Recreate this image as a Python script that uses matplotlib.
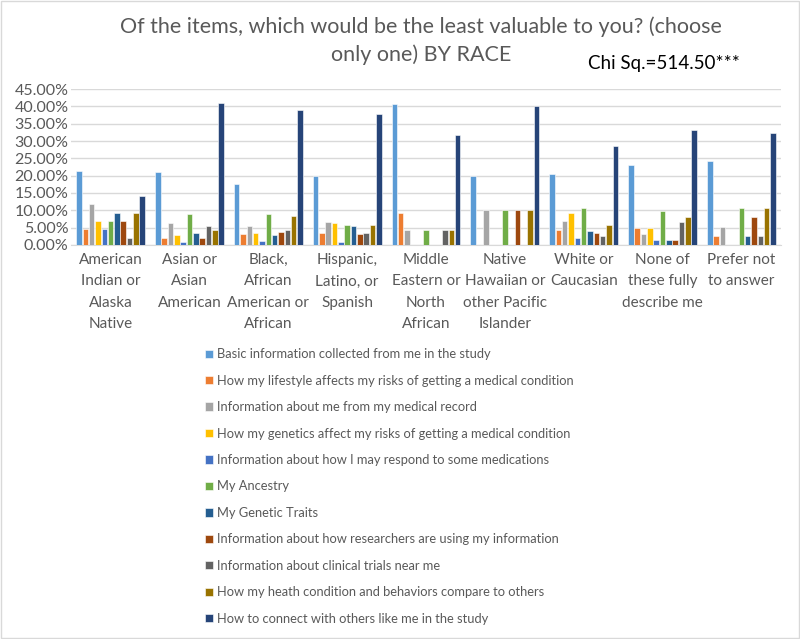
import matplotlib
matplotlib.use('Agg')
import matplotlib.pyplot as plt
import numpy as np
from matplotlib.ticker import PercentFormatter
from matplotlib.patches import Rectangle

plt.rcParams['font.family'] = ['Lato', 'DejaVu Sans']

# Race groups along the x axis
races = ['American\nIndian or\nAlaska\nNative', 'Asian or\nAsian\nAmerican',
         'Black,\nAfrican\nAmerican or\nAfrican', 'Hispanic,\nLatino, or\nSpanish',
         'Middle\nEastern or\nNorth\nAfrican', 'Native\nHawaiian or\nother Pacific\nIslander',
         'White or\nCaucasian', 'None of\nthese fully\ndescribe me', 'Prefer not\nto answer']

items = ['Basic information collected from me in the study',
         'How my lifestyle affects my risks of getting a medical condition',
         'Information about me from my medical record',
         'How my genetics affect my risks of getting a medical condition',
         'Information about how I may respond to some medications',
         'My Ancestry',
         'My Genetic Traits',
         'Information about how researchers are using my information',
         'Information about clinical trials near me',
         'How my heath condition and behaviors compare to others',
         'How to connect with others like me in the study']

colors = ['#5B9BD5', '#ED7D31', '#A5A5A5', '#FFC000', '#4472C4', '#70AD47',
          '#255E91', '#9E480E', '#636363', '#997300', '#264478']

# percent values, one list per item, in race order
basic_info   = [21.4, 21.1, 17.7, 19.9, 40.8, 20.0, 20.4, 23.2, 24.3]
lifestyle    = [4.7, 2.1, 3.1, 3.5, 9.1, 0.0, 4.2, 4.9, 2.6]
med_record   = [11.8, 6.4, 5.6, 6.6, 4.3, 10.0, 6.8, 3.1, 5.3]
genetics     = [7.0, 2.8, 3.6, 6.3, 0.0, 0.0, 9.3, 4.9, 0.0]
medications  = [4.7, 0.8, 1.1, 1.0, 0.0, 0.0, 2.0, 1.5, 0.0]
ancestry     = [7.0, 9.0, 9.0, 5.8, 4.3, 10.0, 10.8, 9.8, 10.7]
traits       = [9.3, 3.5, 2.9, 5.4, 0.0, 0.0, 4.1, 1.5, 2.6]
researchers  = [7.0, 2.1, 3.8, 3.1, 0.0, 10.0, 3.6, 1.5, 8.0]
trials       = [2.1, 5.4, 4.3, 3.5, 4.3, 0.0, 2.6, 6.6, 2.6]
compare      = [9.3, 4.4, 8.5, 5.9, 4.3, 10.0, 5.8, 8.2, 10.7]
connect      = [14.2, 40.9, 38.9, 37.8, 31.7, 40.0, 28.6, 33.2, 32.3]

series = [basic_info, lifestyle, med_record, genetics, medications, ancestry,
          traits, researchers, trials, compare, connect]

fig = plt.figure(figsize=(8, 6.39), dpi=100)
ax = fig.add_axes([0.089, 0.6166, 0.887, 0.2441])

x = np.arange(len(races))
n = len(series)
slot = 0.883 / n
for i, vals in enumerate(series):
    offs = (i - (n - 1) / 2) * slot
    ax.bar(x + offs, np.array(vals) / 100, width=slot * 0.88, color=colors[i],
           edgecolor='white', linewidth=0.4, label=items[i], zorder=3)

ax.set_xlim(-0.5, len(races) - 0.5)
ax.set_ylim(0, 0.45)
ax.set_yticks(np.arange(0, 0.451, 0.05))
ax.yaxis.set_major_formatter(PercentFormatter(1.0, decimals=2))
ax.set_xticks(x)
ax.set_xticklabels(races, linespacing=1.65, fontsize=11)
ax.tick_params(axis='both', length=0, colors='#595959')
ax.tick_params(axis='y', labelsize=11.5, pad=2)
ax.tick_params(axis='x', pad=6)
ax.grid(axis='y', color='#D9D9D9', linewidth=1, zorder=0)
for s in ['top', 'right', 'left']:
    ax.spines[s].set_visible(False)
ax.spines['bottom'].set_color('#D9D9D9')

fig.text(0.526, 1 - 27 / 639, 'Of the items, which would be the least valuable to you? (choose',
         ha='center', va='center', fontsize=15.5, color='#595959')
fig.text(0.526, 1 - 55 / 639, 'only one) BY RACE',
         ha='center', va='center', fontsize=15.5, color='#595959')
fig.text(0.735, 1 - 64 / 639, 'Chi Sq.=514.50***', ha='left', va='center', fontsize=13.5, color='black')

fig.legend(loc='upper left', bbox_to_anchor=(0.25, 1 - 343 / 639), frameon=False,
           fontsize=9.3, labelspacing=1.12, handlelength=0.6, handleheight=0.6,
           handletextpad=0.35, labelcolor='#595959', borderaxespad=0)

fig.patches.append(Rectangle((0.001, 0.001), 0.998, 0.998, transform=fig.transFigure,
                             fill=False, edgecolor='#D9D9D9', linewidth=1))

plt.savefig('out.png', dpi=100)
